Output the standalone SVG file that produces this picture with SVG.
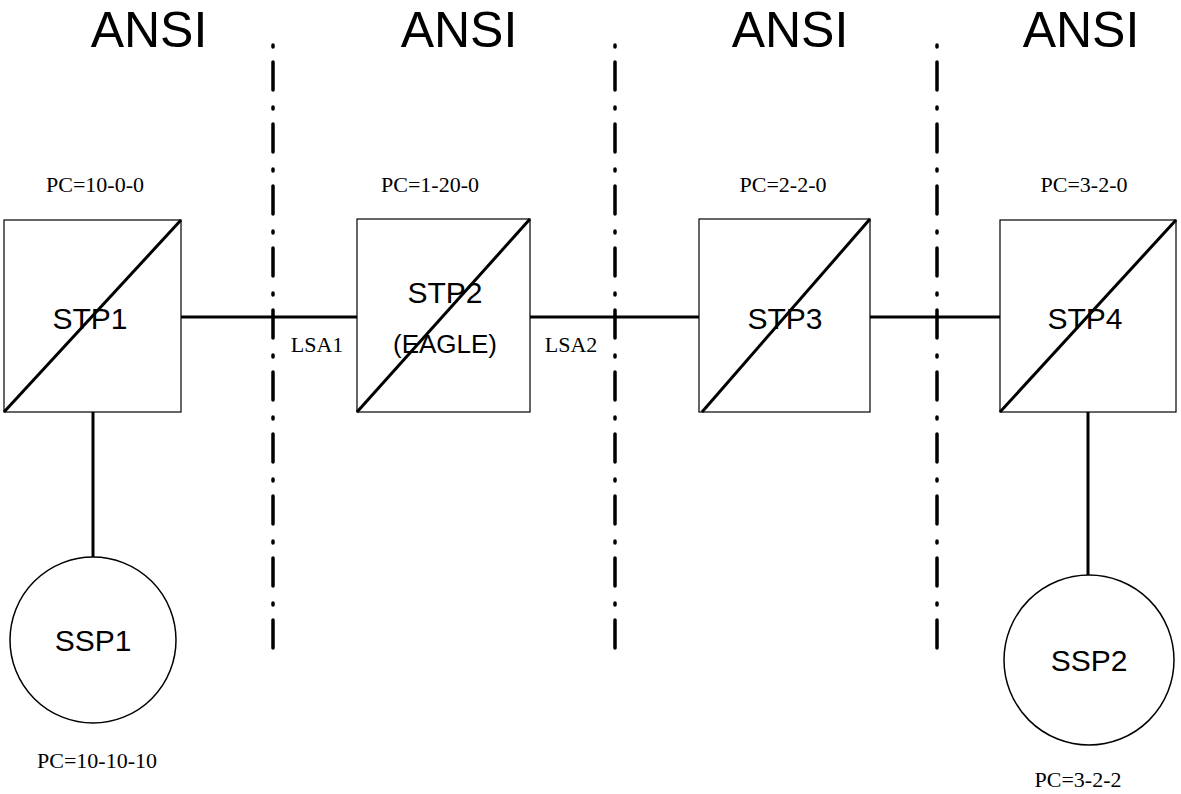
<svg xmlns="http://www.w3.org/2000/svg" width="1181" height="794" viewBox="0 0 1181 794">
<style>
.box{fill:#fff;stroke:#000;stroke-width:1.2}
.diag,.link{stroke:#000;stroke-width:3;fill:none}
.div{stroke:#000;stroke-width:3.5;stroke-dasharray:2 15 28 17;stroke-linecap:round}
.ansi{font-family:"Liberation Sans",Arial,sans-serif;font-size:50px;text-anchor:middle}
.lbl{font-family:"Liberation Sans",Arial,sans-serif;font-size:30px;text-anchor:middle}
.pc{font-family:"Liberation Serif","Times New Roman",serif;font-size:22px;text-anchor:middle}
.circ{fill:#fff;stroke:#000;stroke-width:1.5}
</style>
<rect width="1181" height="794" fill="#fff"/>
<g id="titles">
<text class="ansi" x="149" y="47">ANSI</text>
<text class="ansi" x="459" y="47">ANSI</text>
<text class="ansi" x="790" y="47">ANSI</text>
<text class="ansi" x="1081" y="47">ANSI</text>
</g>
<g id="dividers">
<line class="div" x1="273" y1="45" x2="273" y2="655"/>
<line class="div" x1="615" y1="45" x2="615" y2="655"/>
<line class="div" x1="937" y1="45" x2="937" y2="655"/>
</g>
<g id="connectors">
<line class="link" x1="181" y1="317" x2="357" y2="317"/>
<line class="link" x1="530" y1="317" x2="699" y2="317"/>
<line class="link" x1="870" y1="317" x2="1000" y2="317"/>
<line class="link" x1="93" y1="412" x2="93" y2="557"/>
<line class="link" x1="1088" y1="412" x2="1088" y2="575"/>
</g>
<g id="STP1">
<rect class="box" x="4" y="220" width="177" height="192"/>
<line class="diag" x1="4" y1="412" x2="181" y2="220"/>
<text class="lbl" x="90" y="329">STP1</text>
<text class="pc" x="95" y="192">PC=10-0-0</text>
</g>
<g id="STP2">
<rect class="box" x="357" y="219" width="173" height="193"/>
<line class="diag" x1="357" y1="412" x2="530" y2="219"/>
<text class="lbl" x="445" y="303">STP2</text>
<text class="lbl" x="445" y="353" style="font-size:26px">(EAGLE)</text>
<text class="pc" x="430" y="192">PC=1-20-0</text>
</g>
<g id="STP3">
<rect class="box" x="699" y="219" width="171" height="193"/>
<line class="diag" x1="702" y1="412" x2="870" y2="219"/>
<text class="lbl" x="785" y="329">STP3</text>
<text class="pc" x="783" y="192">PC=2-2-0</text>
</g>
<g id="STP4">
<rect class="box" x="1000" y="220" width="176" height="192"/>
<line class="diag" x1="1000" y1="412" x2="1176" y2="220"/>
<text class="lbl" x="1085" y="329">STP4</text>
<text class="pc" x="1084" y="192">PC=3-2-0</text>
</g>
<g id="SSP1">
<circle class="circ" cx="93" cy="640" r="83"/>
<text class="lbl" x="93" y="651">SSP1</text>
<text class="pc" x="97" y="768">PC=10-10-10</text>
</g>
<g id="SSP2">
<circle class="circ" cx="1089" cy="660" r="85"/>
<text class="lbl" x="1089" y="671">SSP2</text>
<text class="pc" x="1078" y="787">PC=3-2-2</text>
</g>
<g id="link-labels">
<text class="pc" x="317" y="352">LSA1</text>
<text class="pc" x="571" y="352">LSA2</text>
</g>
</svg>
